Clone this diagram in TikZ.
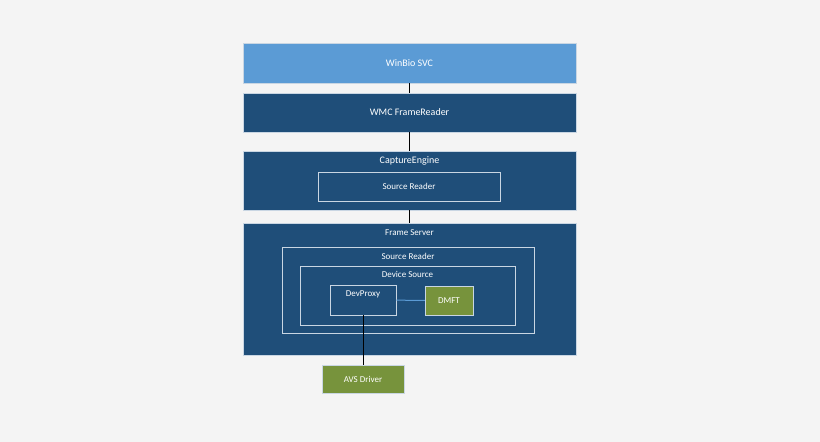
\documentclass[tikz,border=0pt]{standalone}
\usepackage{fontspec}
\setmainfont{Carlito}
\usetikzlibrary{positioning}
\definecolor{bgc}{HTML}{F4F4F4}
\definecolor{lblue}{HTML}{5B9BD5}
\definecolor{dblue}{HTML}{1F4E79}
\definecolor{olive}{HTML}{77933C}
\definecolor{edgec}{HTML}{C9D6E3}
\begin{document}
\begin{tikzpicture}[
x=1pt,y=-1pt,
layer/.style={
  draw=edgec,
  fill=dblue,
  text=white,
  inner sep=0pt,
  minimum width=333pt
  },
inner/.style={
  draw=edgec,
  fill=none,
  inner sep=0pt,
  line width=0.8pt
  },
green/.style={
  draw=edgec,
  fill=olive,
  text=white,
  inner sep=0pt,
  font=\small
  },
caption/.style={
  text=white,
  inner sep=0pt,
  font=\small
  },
link/.style={
  draw=black,
  line width=0.8pt
  }
]
\fill[bgc] (0,0) rectangle (820,442);
\useasboundingbox (0,0) rectangle (820,442);

\node[layer, fill=lblue, minimum height=40pt] (svc) at (409.5,63) {WinBio SVC};
\node[layer, minimum height=39pt] (wmc) at (409.5,112.5) {WMC FrameReader};
\node[layer, minimum height=59pt] (cap) at (409.5,180.5) {};
\node[caption, font=\normalsize, below=6pt of cap.north] {CaptureEngine};
\node[inner, minimum width=182pt, minimum height=29pt, caption] (csr) at (409,186.5) {Source Reader};

\node[layer, minimum height=132pt] (fs) at (409.5,289) {};
\node[caption, below=7pt of fs.north] {Frame Server};
\node[inner, minimum width=252pt, minimum height=86pt] (sr) at (408,290) {};
\node[caption, below=6pt of sr.north] {Source Reader};
\node[inner, minimum width=215pt, minimum height=59pt] (ds) at (407.5,295.5) {};
\node[caption, below=6pt of ds.north] {Device Source};
\node[inner, minimum width=66pt, minimum height=30pt] (proxy) at (363,300) {};
\node[caption, below=6pt of proxy.north] {DevProxy};
\node[green, minimum width=48pt, minimum height=29pt] (dmft) at (449,300.5) {DMFT};
\node[green, minimum width=82pt, minimum height=28pt] (avs) at (363,379) {AVS Driver};

\draw[link] (svc) -- (wmc);
\draw[link] (wmc) -- (cap);
\draw[link] (cap) -- (fs);
\draw[lblue, line width=1pt] (proxy) -- (dmft);
\draw[link] (proxy) -- (avs);
\end{tikzpicture}
\end{document}
